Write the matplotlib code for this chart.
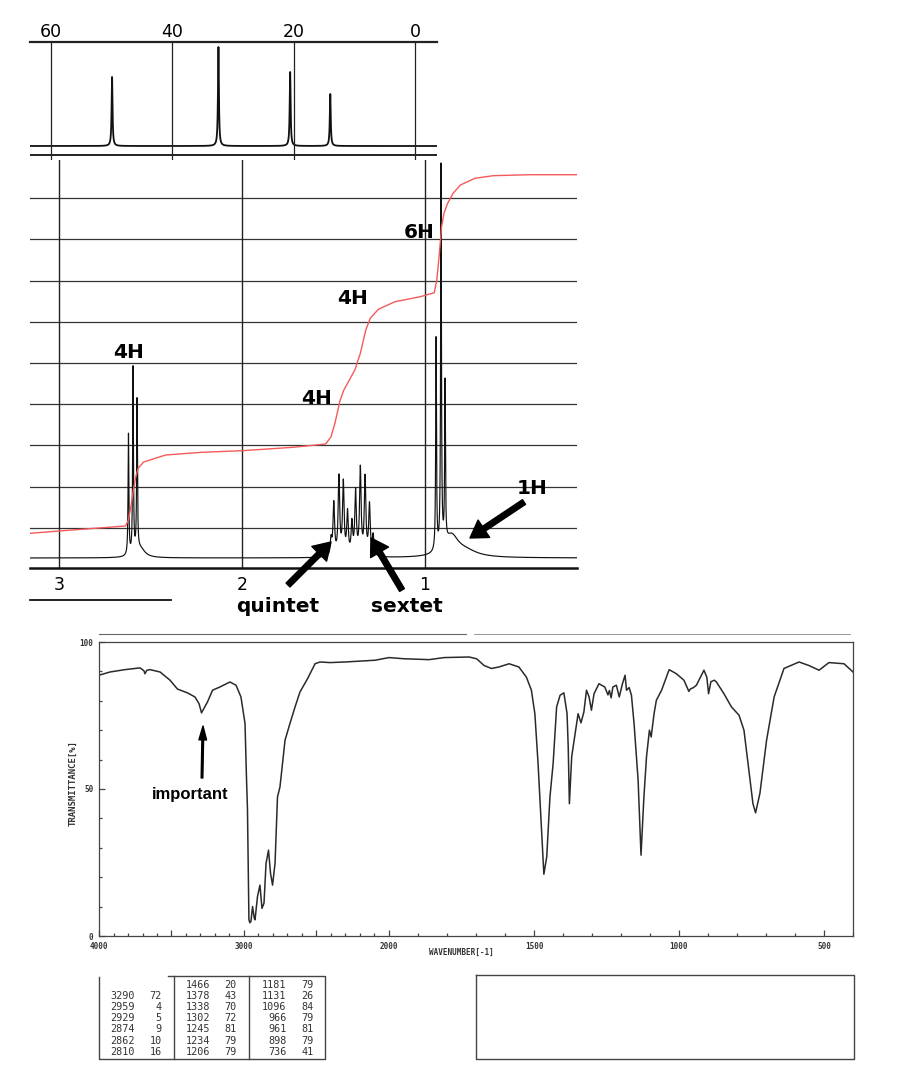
import numpy as np
import matplotlib
matplotlib.use("Agg")
import matplotlib.pyplot as plt
from matplotlib.ticker import FixedLocator

W, H = 900, 1092

# 13C NMR: peak shifts (ppm) and heights above baseline
c13_ppm = [49.9, 32.4, 20.6, 14.0]
c13_int = [69, 99, 74, 52]
c13_ticks = [60, 40, 20, 0]

# 1H NMR lines
h1_ticks = [3, 2, 1]
trip_a_ppm = [2.620, 2.595, 2.573]
trip_a_int = [121, 186, 151]
multi_ppm = [1.513, 1.498, 1.470, 1.446, 1.423, 1.399, 1.379, 1.353, 1.327, 1.303, 1.283]
multi_int = [16, 52, 78, 72, 42, 31, 63, 86, 77, 50, 20]
trip_b_ppm = [0.939, 0.912, 0.890]
trip_b_int = [212, 382, 160]
broad_ppm = [2.555, 0.855, 0.780]
broad_int = [9, 20, 6]
broad_hw = [0.030, 0.045, 0.080]

# integral trace (ppm, height)
integ_ppm = [3.158, 3.0, 2.636, 2.620, 2.607, 2.593, 2.580, 2.567, 2.537, 2.417,
             2.219, 2.0, 1.721, 1.542, 1.513, 1.492, 1.463, 1.443, 1.413, 1.383,
             1.353, 1.323, 1.299, 1.254, 1.164, 1.025, 0.949, 0.935, 0.921, 0.909,
             0.896, 0.876, 0.846, 0.806, 0.727, 0.627, 0.428, 0.169]
integ_val = [34.7, 37, 42, 48, 61, 78, 91, 99.7, 106, 113,
             115.7, 117.3, 120.7, 124, 131.3, 144.7, 168, 178, 188, 198,
             214.7, 238, 249.7, 258.7, 266.3, 271.3, 275.3, 288, 314.7, 341.3,
             354.7, 364.7, 374.7, 383, 389.7, 392.3, 393.3, 393.3]
h1_labels = ["4H", "4H", "4H", "6H", "1H"]

# IR trace (wavenumber, %T)
ir_wn = [4000, 3924, 3821, 3717, 3690, 3683, 3670, 3648, 3579, 3510, 3459, 3390, 3338,
         3310, 3293, 3275, 3252, 3217, 3166, 3097, 3055, 3021, 2993, 2983, 2976, 2966,
         2959, 2952, 2941, 2929, 2924, 2907, 2890, 2876, 2862, 2848, 2831, 2817, 2803,
         2786, 2769, 2752, 2717, 2683, 2648, 2614, 2562, 2510, 2476, 2407, 2303, 2200,
         2096, 2000, 1948, 1862, 1810, 1724, 1698, 1672, 1647, 1621, 1586, 1552, 1526,
         1509, 1497, 1486, 1474, 1466, 1456, 1445, 1434, 1422, 1410, 1397, 1386, 1382,
         1378, 1370, 1360, 1348, 1338, 1328, 1319, 1310, 1302, 1293, 1276, 1256, 1245,
         1240, 1234, 1228, 1216, 1206, 1195, 1186, 1181, 1172, 1164, 1155, 1141, 1131,
         1121, 1112, 1102, 1096, 1086, 1078, 1060, 1034, 1009, 983, 966, 961, 950, 940,
         914, 904, 898, 890, 878, 871, 845, 819, 793, 776, 759, 745, 736, 721, 698, 672,
         638, 586, 552, 517, 483, 431, 400]
ir_t = [88.7, 89.8, 90.6, 91.2, 90.2, 89.2, 90.4, 90.6, 89.8, 87.0, 84.0, 82.7, 81.3,
        79.0, 75.9, 77.5, 79.6, 83.6, 84.7, 86.4, 85.3, 81.3, 72.3, 54.0, 43.0, 5.5,
        4.5, 5.0, 10.0, 6.0, 5.5, 13.4, 17.3, 9.4, 11.2, 24.7, 29.2, 21.3, 17.3,
        24.7, 47.3, 50.7, 66.6, 72.3, 77.9, 83.0, 87.5, 92.6, 93.2, 93.0, 93.2, 93.5,
        93.8, 94.7, 94.3, 94.0, 94.7, 94.9, 94.3, 92.0, 91.0, 91.5, 92.6, 91.5, 88.0,
        83.6, 75.6, 58.7, 36.0, 21.0, 27.0, 47.3, 58.7, 77.9, 81.9, 82.7, 75.6, 64.3,
        45.0, 61.0, 67.7, 75.6, 72.5, 76.2, 83.6, 81.3, 76.8, 82.4, 85.8, 84.7, 82.0,
        83.5, 81.0, 84.7, 85.3, 81.3, 85.8, 88.7, 83.6, 84.5, 81.9, 72.3, 53.0, 27.5,
        47.3, 61.0, 70.0, 67.7, 75.6, 80.2, 83.6, 90.6, 89.2, 87.0, 83.2, 84.0, 84.5, 85.3,
        90.4, 88.0, 82.4, 86.5, 87.0, 86.4, 82.4, 77.9, 75.1, 70.0, 56.4, 45.0, 41.9, 48.5,
        66.6, 81.3, 91.0, 93.2, 92.0, 90.4, 93.0, 92.6, 89.8]
ir_major = [4000, 3000, 2000, 1500, 1000, 500]

# peak table columns
tab_wn = [[3290, 2959, 2929, 2874, 2862, 2810],
          [1466, 1378, 1338, 1302, 1245, 1234, 1206],
          [1181, 1131, 1096, 966, 961, 898, 736]]
tab_t = [[72, 4, 5, 9, 10, 16],
         [20, 43, 70, 72, 81, 79, 79],
         [79, 26, 84, 79, 81, 79, 41]]


def box(x0, y0, x1, y1):
    return [x0 / W, 1 - y1 / H, (x1 - x0) / W, (y1 - y0) / H]


def lorentz(x, centers, heights, hw):
    y = np.zeros_like(x)
    for c, a in zip(centers, heights):
        y += a / (1 + ((x - c) / hw) ** 2)
    return y


fig = plt.figure(figsize=(W / 100, H / 100), dpi=100)

# ---------- 13C ----------
ax1 = fig.add_axes(box(30, 42, 437, 160))
ax1.set_xlim(63.4, -3.56)
ax1.set_ylim(0, 118)
for s in ax1.spines.values():
    s.set_visible(False)
xc = np.linspace(63.4, -3.56, 20000)
ax1.plot(xc, 14 + lorentz(xc, c13_ppm, c13_int, 0.09), color="#111", lw=1.3)
ax1.axhline(118, color="#222", lw=1.6, clip_on=False)
ax1.axhline(5, color="#222", lw=1.4)
for t in c13_ticks:
    ax1.axvline(t, color="#222", lw=0.9)
ax1.set_yticks([])
ax1.xaxis.tick_top()
ax1.set_xticks(c13_ticks)
ax1.set_xticklabels([str(t) for t in c13_ticks])
ax1.tick_params(axis="x", length=0, pad=0.5, labelsize=12.5)

# ---------- 1H ----------
ax2 = fig.add_axes(box(30, 160, 577, 568))
ax2.set_xlim(3.158, 0.169)
ax2.set_ylim(0, 408)
for s in ax2.spines.values():
    s.set_visible(False)
for k in range(9):
    ax2.axhline(40.3 + 41.18 * k, color="#333", lw=0.9)
for t in h1_ticks:
    ax2.axvline(t, color="#222", lw=1.0)
ax2.axhline(0, color="#111", lw=1.8, clip_on=False)
xh = np.linspace(3.158, 0.169, 24000)
yh = (10 + lorentz(xh, trip_a_ppm, trip_a_int, 0.0025)
      + lorentz(xh, multi_ppm, multi_int, 0.005)
      + lorentz(xh, trip_b_ppm, trip_b_int, 0.0025))
for c, a, hw in zip(broad_ppm, broad_int, broad_hw):
    yh += lorentz(xh, [c], [a], hw)
ax2.plot(xh, yh, color="#111", lw=0.85)
ax2.plot(integ_ppm, integ_val, color="#f45a5a", lw=1.0)
ax2.set_yticks([])
ax2.set_xticks(h1_ticks)
ax2.set_xticklabels([str(t) for t in h1_ticks])
ax2.tick_params(axis="x", length=0, pad=5.5, labelsize=12.5)

# ---------- IR ----------
def ir_fwd(w):
    w = np.asarray(w, float)
    return np.where(w <= 2000, w, 2000 + (w - 2000) / 2)


def ir_inv(u):
    u = np.asarray(u, float)
    return np.where(u <= 2000, u, 2000 + (u - 2000) * 2)


ax3 = fig.add_axes(box(99, 642, 853, 936))
ax3.set_xscale("function", functions=(ir_fwd, ir_inv))
ax3.set_xlim(4000, 400)
ax3.set_ylim(0, 100)
ax3.plot(ir_wn, ir_t, color="#2a2a2a", lw=1.1)
for s in ax3.spines.values():
    s.set_color("#444")
    s.set_linewidth(0.9)
maj = [4000, 3500, 3000, 2500, 2000, 1500, 1000, 500]
ax3.xaxis.set_major_locator(FixedLocator(maj))
ax3.xaxis.set_minor_locator(FixedLocator(list(range(400, 4001, 100))))
ax3.set_xticklabels([str(m) if m in ir_major else "" for m in maj])
ax3.yaxis.set_major_locator(FixedLocator([0, 50, 100]))
ax3.yaxis.set_minor_locator(FixedLocator(list(range(0, 101, 10))))
ax3.set_yticklabels(["0", "50", "100"])
tick_font = dict(family="DejaVu Sans Mono", size=5.5, weight="bold")
for lab in ax3.get_xticklabels() + ax3.get_yticklabels():
    lab.set_fontproperties(tick_font)
    lab.set_color("#333")
ax3.tick_params(which="both", direction="in", color="#444", width=0.9)
ax3.tick_params(which="major", length=4, pad=4)
ax3.tick_params(which="minor", length=2.5)
ax3.set_xlabel("WAVENUMBER[-1]", family="DejaVu Sans Mono", size=5.5,
               weight="bold", color="#333")
ax3.xaxis.set_label_coords(0.481, -0.041)
ax3.set_ylabel("TRANSMITTANCE[%]", family="DejaVu Sans Mono", size=6.5,
               weight="bold", color="#333")
ax3.yaxis.set_label_coords(-0.029, 0.52)

# ---------- overlay (labels, arrows, table) ----------
ov = fig.add_axes([0, 0, 1, 1])
ov.set_xlim(0, W)
ov.set_ylim(H, 0)
ov.axis("off")
ov.patch.set_alpha(0)

lab_xy = [(129, 353), (317, 399), (353, 298), (419, 232), (532, 488)]
for txt, (x, y) in zip(h1_labels, lab_xy):
    ov.text(x, y, txt, ha="center", va="center", fontsize=14.5,
            fontweight="bold", family="DejaVu Sans")
ov.text(278, 607, "quintet", ha="center", va="center", fontsize=14.5,
        fontweight="bold", family="DejaVu Sans")
ov.text(407, 607, "sextet", ha="center", va="center", fontsize=14.5,
        fontweight="bold", family="DejaVu Sans")

big = dict(arrowstyle="simple,head_width=0.75,head_length=0.6,tail_width=0.2",
           color="black", mutation_scale=20, shrinkA=0, shrinkB=0)
for tail, tip in [((524, 502), (470, 538)), ((288, 585), (331, 542)),
                  ((402, 590), (371, 538))]:
    ov.annotate("", xy=tip, xytext=tail, arrowprops=big)

ov.plot([30, 171], [600, 600], color="#111", lw=1.3)

ov.text(190, 794, "important", ha="center", va="center", fontsize=12,
        fontweight="bold", family="Liberation Sans")
ov.annotate("", xy=(203, 726), xytext=(202, 778),
            arrowprops=dict(arrowstyle="simple,head_width=0.55,head_length=1.0,tail_width=0.12",
                            color="black", mutation_scale=10, shrinkA=0, shrinkB=0))

# scan remnants above the IR frame
ov.plot([99, 466], [634, 634], color="#666", lw=0.8)
ov.plot([474, 850], [634, 634], color="#888", lw=0.6)

# peak table
line_kw = dict(color="#444", lw=1.0)
ov.plot([99, 99, 325, 325, 168], [977, 1059, 1059, 976, 976], **line_kw)
ov.plot([174, 174], [976, 1059], **line_kw)
ov.plot([249, 249], [976, 1059], **line_kw)
col_x = [(135, 161.7), (210, 236.7), (286.7, 313.3)]
for ci, (wns, ts) in enumerate(zip(tab_wn, tab_t)):
    start = 1 if ci == 0 else 0
    for ri, (w, t) in enumerate(zip(wns, ts)):
        y = 984.5 + 11.2 * (ri + start)
        ov.text(col_x[ci][0], y, str(w), ha="right", va="center",
                family="DejaVu Sans Mono", fontsize=7.3, color="#333")
        ov.text(col_x[ci][1], y, str(t), ha="right", va="center",
                family="DejaVu Sans Mono", fontsize=7.3, color="#333")
ov.plot([476, 854, 854, 476, 476], [975, 975, 1059, 1059, 975], **line_kw)

fig.savefig("out.png", dpi=100)
